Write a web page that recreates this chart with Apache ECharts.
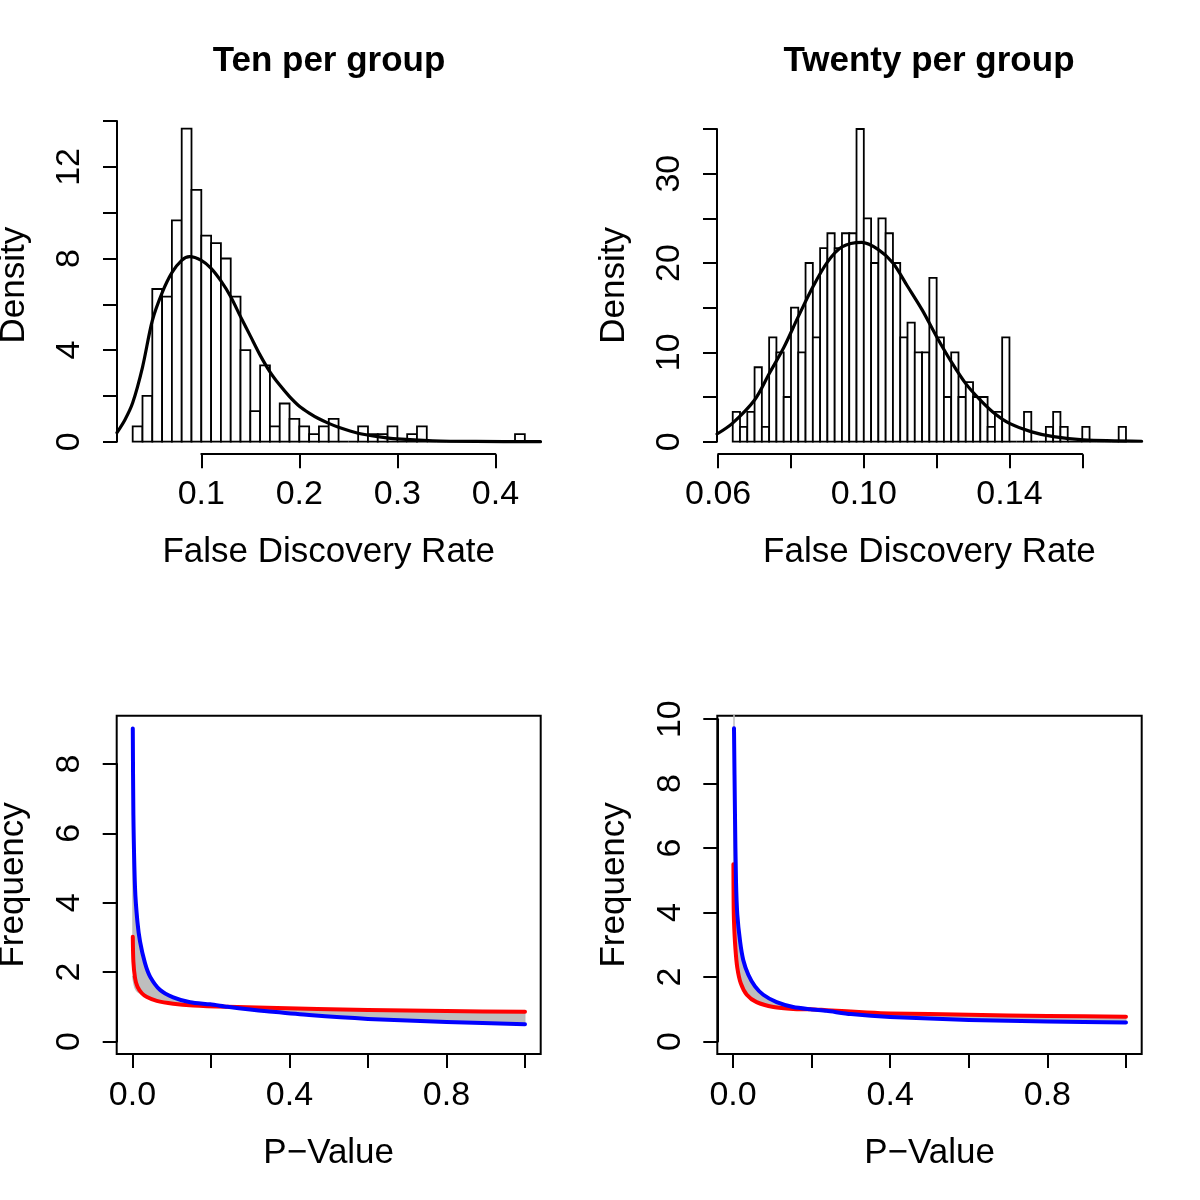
<!DOCTYPE html>
<html><head><meta charset="utf-8">
<script src="https://cdn.jsdelivr.net/npm/echarts@6/dist/echarts.min.js"></script>
<style>html,body{margin:0;padding:0;background:#fff}#c{width:1200px;height:1200px}</style>
</head><body><div id="c"></div>
<script>
// ---------- DATA ----------
// Top-left histogram: "Ten per group" (bin start, bin width, densities)
const tlBinStart = 0.03;
const tlBinWidth = 0.01;
const tlDensity = [0.667, 2, 6.667, 6.333, 9.667, 13.667, 11, 9, 8.667, 8, 6.333, 4, 1.333, 3.333, 0.667, 1.667, 1, 0.667, 0.333, 0.667, 1, 0, 0, 0.667, 0.333, 0.333, 0.667, 0, 0.333, 0.667, 0, 0, 0, 0, 0, 0, 0, 0, 0, 0.333];
const tlCurve = [[0.014,0.40],[0.022,0.95],[0.030,1.70],[0.040,3.25],[0.050,5.28],[0.060,6.50],[0.070,7.38],[0.080,7.92],[0.088,8.08],[0.100,7.92],[0.110,7.57],[0.120,7.02],[0.130,6.33],[0.140,5.46],[0.150,4.62],[0.160,3.78],[0.170,3.05],[0.180,2.47],[0.190,1.97],[0.200,1.55],[0.210,1.25],[0.220,1.00],[0.230,0.80],[0.240,0.63],[0.260,0.37],[0.280,0.22],[0.300,0.12],[0.336,0.04],[0.380,0.01],[0.446,0.00]];

// Top-right histogram: "Twenty per group"
const trBinStart = 0.064;
const trBinWidth = 0.002;
const trDensity = [3.333, 1.667, 3.333, 8.333, 1.667, 11.667, 10, 5, 15, 10, 20, 11.667, 21.667, 23.333, 21.667, 23.333, 23.333, 35, 25, 20, 25, 23.333, 20, 11.667, 13.333, 10, 10, 18.333, 11.667, 5, 10, 5, 6.667, 5, 5, 1.667, 3.333, 11.667, 0, 0, 3.333, 0, 0, 1.667, 3.333, 1.667, 0, 0, 1.667, 0, 0, 0, 0, 1.667];
const trCurve = [[0.0597,0.86],[0.0639,2.05],[0.0700,4.66],[0.0740,7.6],[0.0781,10.6],[0.0820,14.0],[0.0861,17.4],[0.0900,20.1],[0.0940,21.8],[0.0994,22.3],[0.1040,21.5],[0.1080,20.0],[0.1120,17.4],[0.1161,14.7],[0.1200,11.75],[0.1240,8.96],[0.1280,6.5],[0.1320,4.66],[0.1361,3.1],[0.1400,2.05],[0.1461,1.1],[0.1521,0.56],[0.1603,0.2],[0.1763,0.05]];

// Bottom-left curves (P-value densities)
const blBlue = [[0.001,9.02],[0.0025,6.53],[0.0067,4.42],[0.0127,3.46],[0.0195,2.88],[0.032,2.26],[0.045,1.87],[0.070,1.49],[0.104,1.27],[0.147,1.13],[0.198,1.07],[0.242,1.00],[0.300,0.92],[0.343,0.87],[0.450,0.76],[0.600,0.65],[0.800,0.56],[1.000,0.50]];
const blRed = [[0.001,3.02],[0.0025,2.30],[0.0067,1.83],[0.0127,1.58],[0.024,1.39],[0.037,1.28],[0.062,1.17],[0.104,1.09],[0.155,1.04],[0.242,1.00],[0.343,0.97],[0.600,0.91],[0.800,0.875],[1.000,0.855]];
const blGrayTail = [[0.001,1.87],[0.007,1.54],[0.015,1.42],[0.024,1.39]];

// Bottom-right curves
const brBlue = [[0.0025,9.72],[0.005,7.03],[0.0076,4.96],[0.011,3.93],[0.018,3.10],[0.026,2.53],[0.039,2.07],[0.056,1.71],[0.077,1.45],[0.111,1.22],[0.153,1.07],[0.197,1.00],[0.238,0.95],[0.300,0.85],[0.400,0.76],[0.600,0.67],[0.800,0.62],[1.000,0.59]];
const brRed = [[0.001,5.50],[0.0015,4.34],[0.0025,3.72],[0.006,2.90],[0.011,2.28],[0.0196,1.81],[0.035,1.45],[0.060,1.22],[0.103,1.07],[0.153,1.01],[0.197,1.00],[0.238,0.97],[0.341,0.90],[0.400,0.87],[0.600,0.83],[0.800,0.79],[1.000,0.77]];
const brGrayTail = [[0.0025,10.6],[0.0025,9.72]];

// Tick labels (one entry per tick, '' = tick without label)
const tlXLabels = ['0.1','0.2','0.3','0.4'];
const tlYLabels = ['0','','4','','8','','12',''];
const trXLabels = ['0.06','','0.10','','0.14',''];
const trYLabels = ['0','','10','','20','','30',''];
const bXLabels = ['0.0','','0.4','','0.8',''];
const blYLabels = ['0','2','4','6','8'];
const brYLabels = ['0','2','4','6','8','10'];

const titles = ['Ten per group','Twenty per group'];
const xTitles = ['False Discovery Rate','False Discovery Rate','P\u2212Value','P\u2212Value'];
const yTitles = ['Density','Density','Frequency','Frequency'];

// ---------- LAYOUT ----------
const FONT = "'Liberation Sans', Arial, Helvetica, sans-serif";
const panels = [
  {L:117, R:540.5, T:116.2, B:454.2, xmin:0.014, xmax:0.446, ymin:-0.5467, ymax:14.2133, xt:[0.1,0.4,0.1], yt:[0,14,2], xl:tlXLabels, yl:tlYLabels, box:false, lm:23.5, ngx:81},
  {L:717, R:1141.7, T:116.5, B:454.2, xmin:0.05968, xmax:0.17632, ymin:-1.4, ymax:36.4, xt:[0.06,0.16,0.02], yt:[0,35,5], xl:trXLabels, yl:trYLabels, box:false, lm:23.5, ngx:81},
  {L:116.7, R:540.7, T:715.7, B:1054, xmin:-0.04, xmax:1.04, ymin:-0.3612, ymax:9.3912, xt:[0,1,0.2], yt:[0,8,2], xl:bXLabels, yl:blYLabels, box:true, lm:25, ngx:82},
  {L:717.3, R:1141.7, T:715.7, B:1054, xmin:-0.04, xmax:1.04, ymin:-0.3888, ymax:10.1088, xt:[0,1,0.2], yt:[0,10,2], xl:bXLabels, yl:brYLabels, box:true, lm:25, ngx:82}
];

const grids = [], xAxes = [], yAxes = [], series = [];
const axLine = {show:true, onZero:false, lineStyle:{color:'#000', width:2}};
const axTick = {show:true, length:14, lineStyle:{color:'#000', width:2}};
const hidden = {show:false, min:0, max:1, type:'value'};
const gridBase = {containLabel:false, outerBoundsMode:'none'};

panels.forEach((c, i) => {
  const gi = i*3;
  const px = v => c.L + (v - c.xmin)/(c.xmax - c.xmin)*(c.R - c.L);
  const py = v => c.B - (v - c.ymin)/(c.ymax - c.ymin)*(c.B - c.T);
  grids.push(Object.assign({left:c.L, top:c.T, width:c.R-c.L, height:c.B-c.T, show:c.box, borderColor:'#000', borderWidth:2, backgroundColor:'transparent'}, gridBase));
  grids.push(Object.assign({left:px(c.xt[0]), top:c.T, width:px(c.xt[1])-px(c.xt[0]), height:c.B-c.T}, gridBase));
  grids.push(Object.assign({left:c.L, top:py(c.yt[1]), width:c.R-c.L, height:py(c.yt[0])-py(c.yt[1])}, gridBase));
  const nameStyle = {fontSize:35, color:'#000', fontFamily:FONT};
  xAxes.push({gridIndex:gi, type:'value', min:c.xmin, max:c.xmax, name:xTitles[i], nameLocation:'middle', nameGap:c.ngx, nameTextStyle:nameStyle,
    axisLine:{show:false}, axisTick:{show:false}, axisLabel:{show:false}, splitLine:{show:false}});
  yAxes.push({gridIndex:gi, type:'value', min:c.ymin, max:c.ymax, name:yTitles[i], nameLocation:'middle', nameRotate:90, nameGap:85.5, nameTextStyle:nameStyle,
    axisLine:{show:false}, axisTick:{show:false}, axisLabel:{show:false}, splitLine:{show:false}});
  xAxes.push({gridIndex:gi+1, type:'value', min:c.xt[0], max:c.xt[1], interval:c.xt[2], axisLine:axLine, axisTick:axTick, splitLine:{show:false},
    axisLabel:{show:true, margin:c.lm, fontSize:34, color:'#000', fontFamily:FONT, showMinLabel:true, showMaxLabel:true,
      formatter: v => { const k = Math.round((v - c.xt[0])/c.xt[2]); return c.xl[k] || ''; }}});
  yAxes.push(Object.assign({gridIndex:gi+1}, hidden));
  xAxes.push(Object.assign({gridIndex:gi+2}, hidden));
  yAxes.push({gridIndex:gi+2, type:'value', min:c.yt[0], max:c.yt[1], interval:c.yt[2], axisLine:axLine, axisTick:axTick, splitLine:{show:false},
    axisLabel:{show:true, rotate:90, margin:30, fontSize:34, color:'#000', fontFamily:FONT, showMinLabel:true, showMaxLabel:true,
      formatter: v => { const k = Math.round((v - c.yt[0])/c.yt[2]); return c.yl[k] || ''; }}});
});

function histSeries(axisIdx, start, width, dens) {
  const data = dens.map((d, k) => [start + k*width, start + (k+1)*width, d]);
  return {type:'custom', xAxisIndex:axisIdx, yAxisIndex:axisIdx, silent:true, clip:true, data:data, encode:{x:[0,1], y:2},
    renderItem: (p, api) => {
      const a = api.coord([api.value(0), api.value(2)]);
      const b = api.coord([api.value(1), 0]);
      return {type:'rect', shape:{x:a[0], y:a[1], width:b[0]-a[0], height:b[1]-a[1]}, style:{fill:'#fff', stroke:'#000', lineWidth:1.8}};
    }};
}
function lineSeries(axisIdx, data, color, width, smooth) {
  return {type:'line', xAxisIndex:axisIdx, yAxisIndex:axisIdx, data:data, showSymbol:false, symbol:'none', silent:true, clip:true,
    smooth:smooth, lineStyle:{color:color, width:width, cap:'round', join:'round'}, z:3};
}
function bandSeries(axisIdx, upper, lower) {
  return {type:'custom', xAxisIndex:axisIdx, yAxisIndex:axisIdx, silent:true, clip:true, data:[[0.5,0]], z:1,
    renderItem: (p, api) => {
      const pts = upper.map(d => api.coord(d)).concat(lower.slice().reverse().map(d => api.coord(d)));
      return {type:'polygon', shape:{points:pts}, style:{fill:'#BEBEBE', stroke:'#BEBEBE', lineWidth:1}};
    }};
}

series.push(histSeries(0, tlBinStart, tlBinWidth, tlDensity));
series.push(lineSeries(0, tlCurve, '#000', 3.2, 0.3));
series.push(histSeries(3, trBinStart, trBinWidth, trDensity));
series.push(lineSeries(3, trCurve, '#000', 3.2, 0.3));
series.push(bandSeries(6, blBlue, blRed));
series.push(Object.assign(lineSeries(6, blGrayTail, '#BEBEBE', 1.5, 0.3), {z:2}));
series.push(lineSeries(6, blRed, '#FF0000', 4, 0.25));
series.push(lineSeries(6, blBlue, '#0000FF', 4, 0.25));
series.push(bandSeries(9, brBlue, brRed));
series.push(Object.assign(lineSeries(9, brGrayTail, '#BEBEBE', 1.5, false), {z:2}));
series.push(lineSeries(9, brRed, '#FF0000', 4, 0.25));
series.push(lineSeries(9, brBlue, '#0000FF', 4, 0.25));

const chart = echarts.init(document.getElementById('c'), null, {renderer:'canvas'});
chart.setOption({
  animation:false,
  backgroundColor:'#fff',
  grid:grids, xAxis:xAxes, yAxis:yAxes, series:series,
  graphic:[
    {type:'text', x:329, y:61, style:{text:titles[0], font:'bold 35px '+FONT, fill:'#000', align:'center', verticalAlign:'middle'}},
    {type:'text', x:929, y:61, style:{text:titles[1], font:'bold 35px '+FONT, fill:'#000', align:'center', verticalAlign:'middle'}}
  ]
});
</script></body></html>
